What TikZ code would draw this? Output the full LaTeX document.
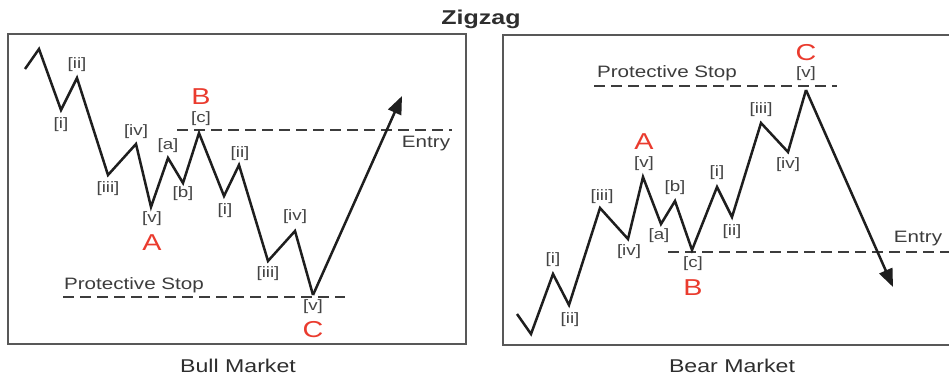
\documentclass[tikz,border=0pt]{standalone}
\usepackage{fontspec}
\setmainfont{Liberation Sans}
\newfontfamily\wide[FakeStretch=1.25]{Liberation Sans}
\usetikzlibrary{arrows.meta}
\definecolor{lblgray}{HTML}{444444}
\definecolor{boxgray}{HTML}{585858}
\definecolor{wavecol}{HTML}{1E1E1E}
\definecolor{dashcol}{HTML}{3C3C3C}
\definecolor{wavered}{HTML}{EA3B2E}
\definecolor{txtcol}{HTML}{2E2E2E}
\begin{document}
\begin{tikzpicture}[x=1pt,y=-1pt,
  panel/.style={draw=boxgray, line width=2.4pt},
  wave/.style={draw=wavecol, line width=2.5pt, line join=miter},
  wavearrow/.style={wave, -{Triangle[length=18pt,width=14pt]}},
  stopline/.style={draw=dashcol, line width=2pt, dash pattern=on 11pt off 6pt},
  lab/.style={inner sep=0pt, text=lblgray, font=\wide\fontsize{15}{15}\selectfont},
  wavename/.style={inner sep=0pt, text=wavered, font=\wide\fontsize{23}{23}\selectfont},
  linetext/.style={inner sep=0pt, text=dashcol, font=\wide\fontsize{16.5}{17}\selectfont},
  caption/.style={inner sep=0pt, text=txtcol, font=\wide\fontsize{18.5}{19}\selectfont},
  titletext/.style={inner sep=0pt, text=txtcol, font=\wide\bfseries\fontsize{20}{20}\selectfont}]
\clip (0,0) rectangle (949,376);
\fill[white] (0,0) rectangle (949,376);

% title
\node[titletext] (title) at (481,19) {Zigzag};

% panels
\draw[panel] (8,34) rectangle (466,344);
\draw[panel] (503,35) rectangle (960,345);
\node[caption] (bull) at (238,366) {Bull Market};
\node[caption] (bear) at (732,366) {Bear Market};

% ---------- Bull market ----------
\coordinate (b0) at (25,69);
\coordinate (b1) at (39,49);
\coordinate (b2) at (61,110);
\coordinate (b3) at (77,78);
\coordinate (b4) at (108,175);
\coordinate (b5) at (136,144);
\coordinate (b6) at (151,207);
\coordinate (b7) at (168,158);
\coordinate (b8) at (183,183);
\coordinate (b9) at (199,133);
\coordinate (b10) at (224,196);
\coordinate (b11) at (239,165);
\coordinate (b12) at (268,261);
\coordinate (b13) at (295,231);
\coordinate (b14) at (313,295);
\coordinate (b15) at (402,96);

\coordinate (es1) at (177,130);
\coordinate (ee1) at (452,130);
\coordinate (ps1) at (63,297);
\coordinate (pe1) at (345,297);
\draw[stopline] (es1) -- (ee1);
\draw[stopline] (ps1) -- (pe1);

\draw[wave] (b0) -- (b1) -- (b2) -- (b3) -- (b4) -- (b5) -- (b6) -- (b7)
  -- (b8) -- (b9) -- (b10) -- (b11) -- (b12) -- (b13) -- (b14);
\draw[wavearrow] (b14) -- (b15);

\node[lab] (bl1) at (61,125) {[i]};
\node[lab] (bl2) at (77,65) {[ii]};
\node[lab] (bl3) at (108,189) {[iii]};
\node[lab] (bl4) at (136,132) {[iv]};
\node[lab] (bl5) at (152,219) {[v]};
\node[lab] (bla) at (168,146) {[a]};
\node[lab] (blb) at (183,194) {[b]};
\node[lab] (blc) at (201,119) {[c]};
\node[lab] (bl6) at (225,211) {[i]};
\node[lab] (bl7) at (240,154) {[ii]};
\node[lab] (bl8) at (268,274) {[iii]};
\node[lab] (bl9) at (295,217) {[iv]};
\node[lab] (bl10) at (313,307) {[v]};
\node[wavename] (bA) at (152,243) {A};
\node[wavename] (bB) at (201,97) {B};
\node[wavename] (bC) at (313,330) {C};
\node[linetext] (bentry) at (426,144) {Entry};
\node[linetext] (bstop) at (134,285) {Protective Stop};

% ---------- Bear market ----------
\coordinate (r0) at (517,314);
\coordinate (r1) at (531,334);
\coordinate (r2) at (553,274);
\coordinate (r3) at (569,305);
\coordinate (r4) at (600,208);
\coordinate (r5) at (628,239);
\coordinate (r6) at (643,177);
\coordinate (r7) at (661,224);
\coordinate (r8) at (675,201);
\coordinate (r9) at (692,250);
\coordinate (r10) at (717,187);
\coordinate (r11) at (732,217);
\coordinate (r12) at (761,123);
\coordinate (r13) at (788,152);
\coordinate (r14) at (806,90);
\coordinate (r15) at (893,287);

\coordinate (es2) at (668,252);
\coordinate (ee2) at (955,252);
\coordinate (ps2) at (594,86);
\coordinate (pe2) at (837,86);
\draw[stopline] (es2) -- (ee2);
\draw[stopline] (ps2) -- (pe2);

\draw[wave] (r0) -- (r1) -- (r2) -- (r3) -- (r4) -- (r5) -- (r6) -- (r7)
  -- (r8) -- (r9) -- (r10) -- (r11) -- (r12) -- (r13) -- (r14);
\draw[wavearrow] (r14) -- (r15);

\node[lab] (rl1) at (553,260) {[i]};
\node[lab] (rl2) at (570,320) {[ii]};
\node[lab] (rl3) at (602,197) {[iii]};
\node[lab] (rl4) at (629,252) {[iv]};
\node[lab] (rl5) at (644,164) {[v]};
\node[lab] (rla) at (659,236) {[a]};
\node[lab] (rlb) at (675,188) {[b]};
\node[lab] (rlc) at (693,264) {[c]};
\node[lab] (rl6) at (717,173) {[i]};
\node[lab] (rl7) at (732,232) {[ii]};
\node[lab] (rl8) at (761,110) {[iii]};
\node[lab] (rl9) at (788,165) {[iv]};
\node[lab] (rl10) at (806,74) {[v]};
\node[wavename] (rA) at (644,142) {A};
\node[wavename] (rB) at (693,288) {B};
\node[wavename] (rC) at (806,53) {C};
\node[linetext] (rentry) at (918,239) {Entry};
\node[linetext] (rstop) at (667,73) {Protective Stop};
\end{tikzpicture}
\end{document}
